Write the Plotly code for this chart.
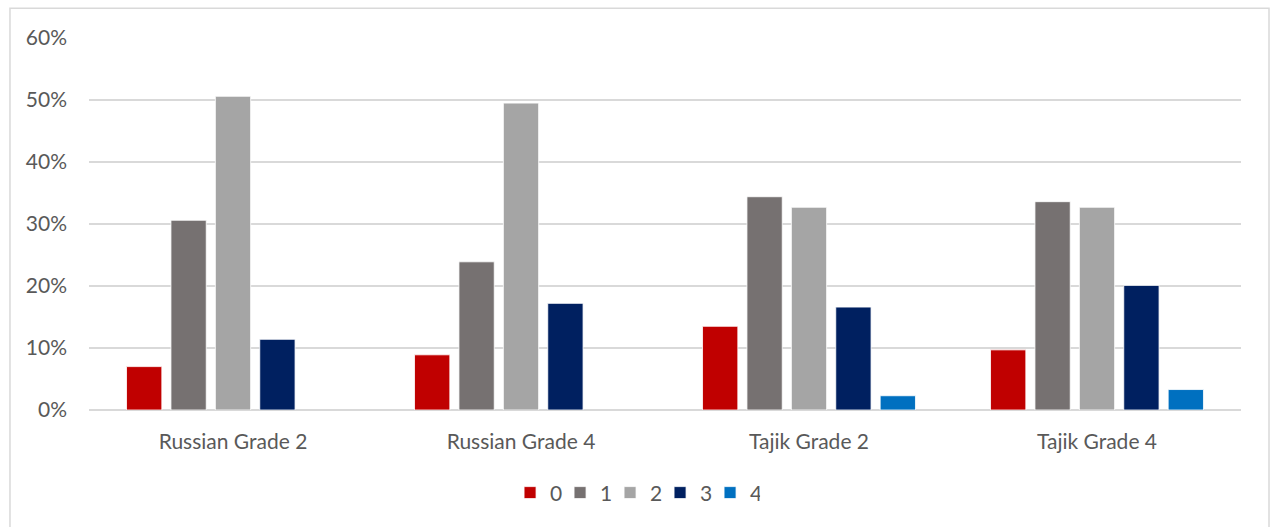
import plotly.graph_objects as go

# Share of pupils by score, per language and grade
categories = ["Russian Grade 2", "Russian Grade 4", "Tajik Grade 2", "Tajik Grade 4"]
score_labels = ["0", "1", "2", "3", "4"]
score_0 = [0.070, 0.089, 0.135, 0.097]
score_1 = [0.306, 0.239, 0.344, 0.336]
score_2 = [0.506, 0.495, 0.327, 0.327]
score_3 = [0.114, 0.172, 0.166, 0.201]
score_4 = [None, None, 0.023, 0.033]

series = [score_0, score_1, score_2, score_3, score_4]
colors = ["#C00000", "#767171", "#A5A5A5", "#002060", "#0070C0"]

fig = go.Figure()
for name, vals, col in zip(score_labels, series, colors):
    fig.add_trace(go.Bar(
        x=categories, y=vals, name=name,
        marker=dict(color=col, line=dict(color="rgba(255,255,255,0.8)", width=1)),
    ))

font_family = "Lato, 'Open Sans', sans-serif"
text_color = "#595959"

fig.update_layout(
    width=1271, height=527,
    margin=dict(l=89, r=30, t=38, b=117),
    paper_bgcolor="white", plot_bgcolor="white",
    barmode="group", bargap=0.229, bargroupgap=0.205,
    font=dict(family=font_family, size=21, color=text_color),
    showlegend=True,
    legend=dict(
        orientation="h", x=0.474, xanchor="center", y=-0.223, yanchor="middle",
        font=dict(size=21, color=text_color), itemwidth=30,
        entrywidth=5, entrywidthmode="pixels",
        traceorder="normal",
    ),
    xaxis=dict(showgrid=False, showline=False, zeroline=False,
               ticks="", ticklabelstandoff=17,
               tickfont=dict(size=21, color=text_color)),
    yaxis=dict(range=[0, 0.6], dtick=0.1, tickformat=".0%",
               showgrid=True, gridcolor="#D9D9D9", gridwidth=1.5,
               zeroline=True, zerolinecolor="#D9D9D9", zerolinewidth=1.5,
               showline=False, ticks="", ticklabelstandoff=21,
               tickfont=dict(size=21, color=text_color)),
    shapes=[dict(type="rect", xref="paper", yref="paper",
                 x0=-0.0686, x1=1.0243, y0=-0.6, y1=1.0798,
                 line=dict(color="#D9D9D9", width=1.5), fillcolor="rgba(0,0,0,0)",
                 layer="below")],
)

fig.write_html("out.html")
